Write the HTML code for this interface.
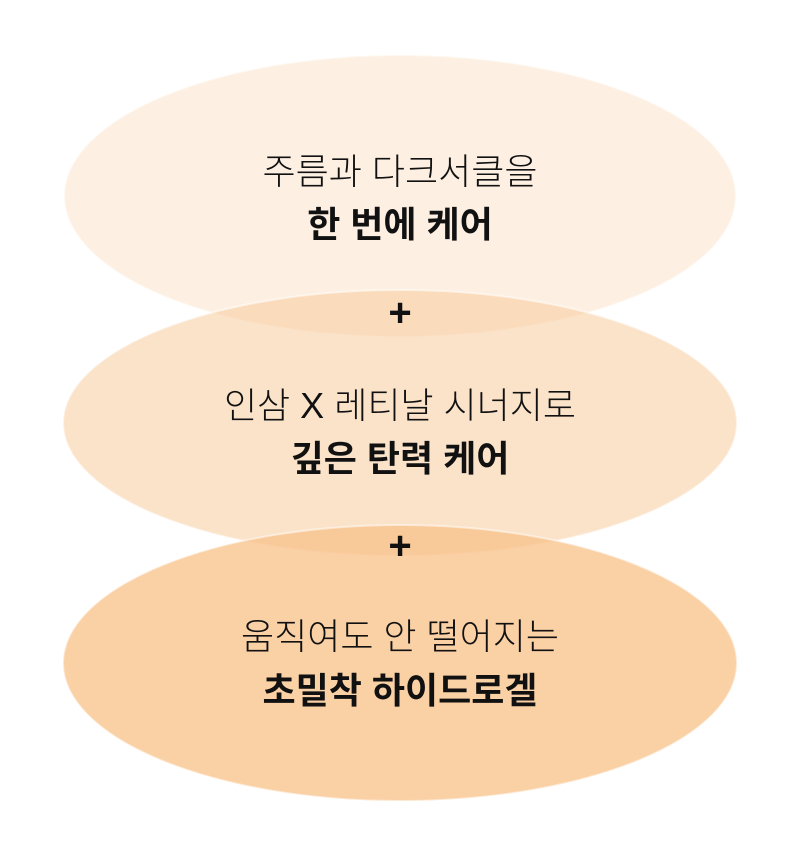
<!DOCTYPE html>
<html><head><meta charset="utf-8"><style>
html,body{margin:0;padding:0;background:#fff;}
body{width:798px;height:863px;overflow:hidden;}
text{font-family:"Liberation Sans","Noto Sans CJK KR",sans-serif;fill:#111;}
</style></head><body>
<svg width="798" height="863" viewBox="0 0 798 863">
<ellipse cx="400" cy="196" rx="336" ry="141" fill="rgb(248,200,150)" fill-opacity="0.27" stroke="#fff" stroke-opacity="0.5" stroke-width="2"/>
<ellipse cx="400" cy="423" rx="337" ry="133" fill="rgb(248,200,150)" fill-opacity="0.5" stroke="#fff" stroke-opacity="0.5" stroke-width="2"/>
<ellipse cx="400" cy="663" rx="337" ry="138" fill="rgb(248,195,140)" fill-opacity="0.78" stroke="#fff" stroke-opacity="0.5" stroke-width="2"/>
<g text-anchor="middle">
<text x="400" y="184" font-size="36" font-weight="300">주름과 다크서클을</text>
<text x="400" y="237" font-size="36" font-weight="bold">한 번에 케어</text>
<text x="400" y="326" font-size="40" font-weight="bold">+</text>
<text x="400" y="418" font-size="36" font-weight="300">인삼 X 레티날 시너지로</text>
<text x="400" y="471" font-size="36" font-weight="bold">깊은 탄력 케어</text>
<text x="400" y="559" font-size="40" font-weight="bold">+</text>
<text x="400" y="649" font-size="36" font-weight="300">움직여도 안 떨어지는</text>
<text x="400" y="703" font-size="36" font-weight="bold">초밀착 하이드로겔</text>
</g>
</svg>
</body></html>
